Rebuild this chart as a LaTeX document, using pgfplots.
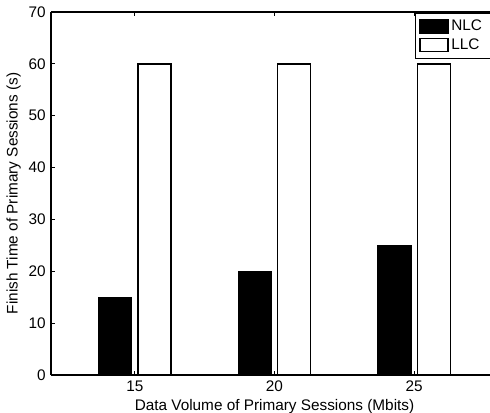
\documentclass[border=0pt]{standalone}
\usepackage{fontspec}
\setmainfont{Liberation Sans}
\usepackage{pgfplots}
\pgfplotsset{compat=1.18}
\begin{document}
\fontsize{11.5}{13.5}\selectfont
\begin{tikzpicture}
\path[use as bounding box] (-38.25pt,-28.5pt) rectangle (329.25pt,281.25pt);
\clip (-38.25pt,-28.5pt) rectangle (329.25pt,281.25pt);
\begin{axis}[
  at={(0,0)}, anchor=south west,
  scale only axis,
  width=335.25pt, height=272.25pt,
  xmin=0.4, xmax=3.6, ymin=0, ymax=70,
  axis x line*=box, axis y line*=left,
  xtick={1,2,3}, xticklabels={15,20,25},
  ytick={0,10,20,30,40,50,60,70},
  tick align=inside,
  major tick length=3pt,
  axis line style={line width=0.8pt},
  every tick/.style={line width=0.6pt, black},
  /pgf/number format/assume math mode=true,
  ticklabel style={font=\fontsize{11.5}{13.5}\selectfont},
  xlabel={Data Volume of Primary Sessions (Mbits)},
  ylabel={Finish Time of Primary Sessions (s)},
  label style={font=\fontsize{11.5}{13.5}\selectfont},
  xlabel style={yshift=2.5pt},
  ylabel style={yshift=-2pt},
  xticklabel style={yshift=-0.5pt},
  legend style={at={(0.814,0.997)}, anchor=north west, draw=black, line width=0.6pt,
    font=\fontsize{11.5}{13.5}\selectfont, inner xsep=3pt, inner ysep=3pt,
    row sep=0pt},
  legend cell align=left,
  legend image code/.code={\draw[#1, line width=1pt] (0pt,-5pt) rectangle (21pt,5pt);},
]
\addplot[ybar, bar width=0.236, bar shift=-0.14, fill=black, draw=black, line width=1pt]
  coordinates {(1,15) (2,20) (3,25)};
\addlegendentry{\makebox[40pt][l]{NLC}}
\addplot[ybar, bar width=0.236, bar shift=0.14, fill=white, draw=black, line width=1pt]
  coordinates {(1,60) (2,60) (3,60)};
\addlegendentry{\makebox[40pt][l]{LLC}}
\end{axis}
\end{tikzpicture}
\end{document}
